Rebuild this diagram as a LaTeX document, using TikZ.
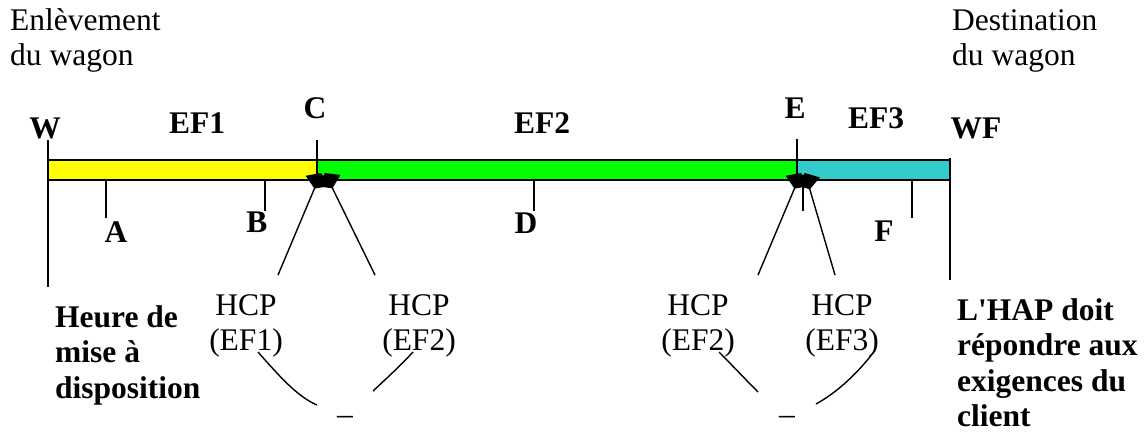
\documentclass[tikz,border=0pt]{standalone}
\usepackage{fontspec}
\setmainfont{Liberation Serif}
\usetikzlibrary{arrows.meta}
% several lines of text whose first baseline is the node's base
\newcommand{\txtlines}[2][l]{\begin{tabular}[t]{@{}#1@{}}#2\end{tabular}}
\definecolor{barY}{RGB}{255,255,0}
\definecolor{barG}{RGB}{0,255,0}
\definecolor{barC}{RGB}{51,204,204}
\begin{document}
\begin{tikzpicture}[x=1pt,y=-1pt,
  txt/.style={font=\fontsize{31.5}{35.5}\selectfont, inner sep=0pt, anchor=base},
  lbl/.style={font=\fontsize{31.5}{35.5}\selectfont\bfseries, inner sep=0pt, anchor=base},
  seg/.style={draw=black, line width=1.6pt},
  ln/.style={line width=1.6pt},
  hook/.style={line width=1.4pt, -{Diamond[length=17pt,width=26pt]}},
  brace/.style={line width=1.4pt}]
\useasboundingbox (0,0) rectangle (1147,437);

% journey bar split into the three railway undertakings
\filldraw[seg, fill=barY] (48,160) rectangle (317,180);
\filldraw[seg, fill=barG] (317,160) rectangle (797,180);
\filldraw[seg, fill=barC] (797,160) rectangle (950,180);

% start / handover / end markers
\draw[ln] (48,140) -- (48,287);
\draw[ln] (317,140) -- (317,160);
\draw[ln] (797,139) -- (797,160);
\draw[ln] (950,158) -- (950,280);

% intermediate points
\draw[ln] (106,180) -- (106,218);
\draw[ln] (265,180) -- (265,211);
\draw[ln] (534,180) -- (534,211);
\draw[ln] (803,182) -- (803,211);
\draw[ln] (912,180) -- (912,218);

% header texts
\node[txt, anchor=base west] (pick) at (10,30) {\txtlines{Enlèvement\\du wagon}};
\node[txt, anchor=base west] (dest) at (952,30) {\txtlines{Destination\\du wagon}};

% point and segment labels
\node[lbl] (w)   at (45,138)  {W};
\node[lbl] (ef1) at (197,133) {EF1};
\node[lbl] (c)   at (315,118) {C};
\node[lbl] (ef2) at (542,133) {EF2};
\node[lbl] (e)   at (795,118) {E};
\node[lbl] (ef3) at (876,128) {EF3};
\node[lbl] (wf)  at (976,138) {WF};
\node[lbl] (a)   at (116,242) {A};
\node[lbl] (b)   at (257,232) {B};
\node[lbl] (d)   at (526,233) {D};
\node[lbl] (f)   at (884,241) {F};

% bottom notes
\node[lbl, anchor=base west] (hmd) at (55,327)
  {\txtlines{Heure de\\mise à\\disposition}};
\node[lbl, anchor=base west] (hap) at (957,320)
  {\txtlines{L\textquotesingle HAP doit\\répondre aux\\exigences du\\client}};

% handover times
\node[txt] (h1) at (246,315) {\txtlines[c]{HCP\\(EF1)}};
\node[txt] (h2) at (419,315) {\txtlines[c]{HCP\\(EF2)}};
\node[txt] (h3) at (698,315) {\txtlines[c]{HCP\\(EF2)}};
\node[txt] (h4) at (842,315) {\txtlines[c]{HCP\\(EF3)}};

% differences
\node[txt] (m1) at (345,424) {–};
\node[txt] (m2) at (787,424) {–};

% junctions at the handover points
\coordinate (jc1) at (321,173);
\coordinate (jc2) at (325,173);
\coordinate (je1) at (801,173);
\coordinate (je2) at (805,173);

\coordinate (h1t) at (278,275);
\coordinate (h2t) at (375,275);
\coordinate (h3t) at (758,275);
\coordinate (h4t) at (835,275);
\draw[hook] (h1t) -- (jc1);
\draw[hook] (h2t) -- (jc2);
\draw[hook] (h3t) -- (je1);
\draw[hook] (h4t) -- (je2);

% curved links from the handover times to the differences
\coordinate (h1b) at (258,352);
\coordinate (m1l) at (317,405);
\coordinate (h2b) at (413,352);
\coordinate (m1r) at (373,391);
\coordinate (h3b) at (719,352);
\coordinate (m2l) at (758,392);
\coordinate (h4b) at (873,353);
\coordinate (m2r) at (816,404);
\draw[brace] (h1b) .. controls (280,377) and (298,397) .. (m1l);
\draw[brace] (h2b) .. controls (401,365) and (386,379) .. (m1r);
\draw[brace] (h3b) .. controls (731,364) and (745,379) .. (m2l);
\draw[brace] (h4b) .. controls (856,375) and (836,393) .. (m2r);
\end{tikzpicture}
\end{document}
